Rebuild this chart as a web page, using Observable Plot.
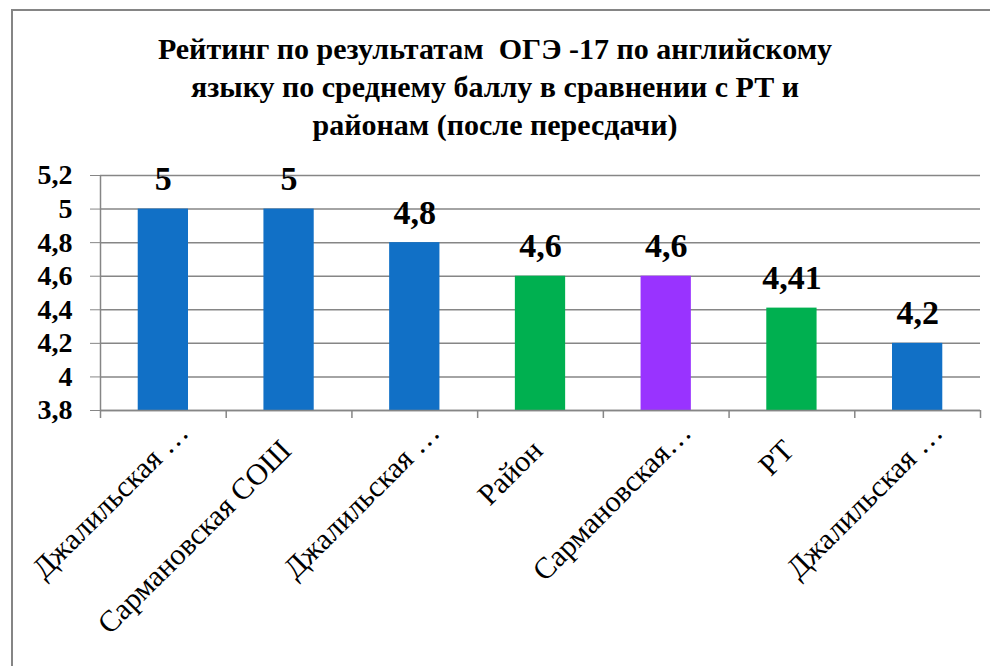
<!DOCTYPE html>
<html>
<head>
<meta charset="utf-8">
<script src="https://cdn.jsdelivr.net/npm/d3@7"></script>
<script src="https://cdn.jsdelivr.net/npm/@observablehq/plot@0.6"></script>
<style>
  html, body { margin: 0; padding: 0; background: #fff; overflow: hidden; }
  #page { position: relative; width: 990px; height: 666px; overflow: hidden; }
  #border { position: absolute; left: 11px; top: 9px; width: 1000px; height: 700px; border: 2px solid #858585; box-sizing: border-box; }
  #title { position: absolute; left: 0; top: 30px; width: 990px; text-align: center;
           font-family: "Liberation Serif", "Times New Roman", Times, "DejaVu Serif", serif; font-weight: bold;
           font-size: 30px; line-height: 38px; color: #000; }
  #chart { position: absolute; left: 0; top: 150px; }
</style>
</head>
<body>
<div id="page">
  <div id="border"></div>
  <div id="title">Рейтинг по результатам&nbsp; ОГЭ -17 по английскому<br>языку по среднему баллу в сравнении с РТ и<br>районам (после пересдачи)</div>
  <div id="chart"></div>
</div>
<script>
const labels = ["Джалильская …", "Сармановская СОШ", "Джалильская …", "Район", "Сармановская…", "РТ", "Джалильская …"];
const values = [5, 5, 4.8, 4.6, 4.6, 4.41, 4.2];
const colors = ["#1170c6", "#1170c6", "#1170c6", "#00b050", "#9933ff", "#00b050", "#1170c6"];
const yTicks = [3.8, 4, 4.2, 4.4, 4.6, 4.8, 5, 5.2];
const yMin = 3.8, yMax = 5.2;

const data = values.map((v, i) => ({i, label: labels[i], value: v, color: colors[i]}));
const fmt = v => String(+v.toFixed(2)).replace(".", ",");
const bounds = d3.range(labels.length + 1);
const serif = "'Liberation Serif', 'Times New Roman', Times, 'DejaVu Serif', serif";
const truncated = data.filter(d => d.label.endsWith("…"));
const full = data.filter(d => !d.label.endsWith("…"));
const labelAxis = (rows, dx, dy) => Plot.axisX({
  ticks: rows.map(d => d.i + 0.5), tickSize: 0, tickPadding: 0, tickRotate: -45,
  tickFormat: v => labels[Math.floor(v)], fontSize: 30, fill: "#000", dx, dy, label: null
});

const chart = Plot.plot({
  width: 990,
  height: 516,
  marginLeft: 100,
  marginRight: 10,
  marginTop: 25,
  marginBottom: 256,
  style: {fontFamily: serif, color: "#000", background: "transparent"},
  x: {type: "linear", domain: [0, labels.length]},
  y: {type: "linear", domain: [yMin, yMax]},
  marks: [
    Plot.ruleY(yTicks, {stroke: "#868686", strokeWidth: 1.5}),
    Plot.rectY(data, {x1: d => d.i + 0.3, x2: d => d.i + 0.7, y1: yMin, y2: "value", fill: "color"}),
    Plot.ruleX([0], {stroke: "#868686", strokeWidth: 1.5}),
    Plot.ruleY([yMin], {stroke: "#868686", strokeWidth: 1.5}),
    Plot.axisY({ticks: yTicks, tickSize: 10, tickPadding: 18, tickFormat: fmt, stroke: "#868686",
                fontSize: 28, fontWeight: "bold", fill: "#000", label: null}),
    Plot.axisX({ticks: bounds, tickSize: 8, tickFormat: () => "", stroke: "#868686", strokeWidth: 1.5, label: null}),
    labelAxis(truncated, 20, 17),
    labelAxis(full, -3, 35),
    Plot.text(data, {x: d => d.i + 0.5, y: "value", text: d => fmt(d.value), lineAnchor: "bottom", dy: -19,
                     fontSize: 34, fontWeight: "bold", fill: "#000"})
  ]
});
document.getElementById("chart").appendChild(chart);
</script>
</body>
</html>
